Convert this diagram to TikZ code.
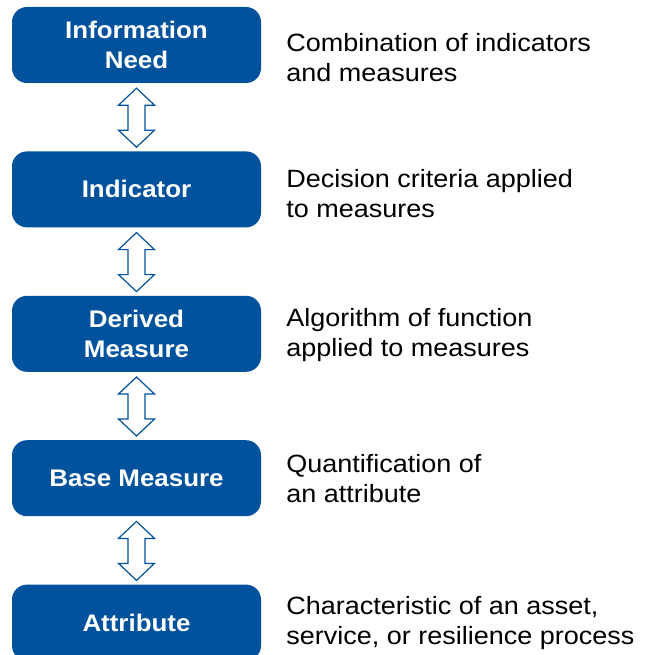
\documentclass[tikz,border=0pt]{standalone}
\usepackage{fontspec}
\usepackage{tikz}
\usetikzlibrary{positioning,calc}
\newfontfamily\diagfont{Liberation Sans}[FakeStretch=1.08]
\definecolor{levelblue}{HTML}{00529C}
% double-headed hollow arrow between two stacked boxes
\newcommand{\linkarrow}[2]{%
  \draw[linkline] ($(#1.south)+(0,-5pt)$) -- ++(18pt,-17pt) -- ++(-9.5pt,0pt)
    |- ($(#2.north)+(18pt,21pt)$) -- ($(#2.north)+(0,4pt)$)
    -- ($(#2.north)+(-18pt,21pt)$) -| ($(#1.south)+(-8.5pt,-22pt)$)
    -- ++(-9.5pt,0pt) -- cycle;}

\begin{document}
\begin{tikzpicture}[node distance=68pt,
  levelbox/.style={fill=levelblue, rounded corners=15pt, minimum width=249pt, minimum height=76pt,
    align=center, text=white, font=\diagfont\bfseries\fontsize{24}{30}\selectfont},
  desc/.style={inner sep=0pt, align=left, font=\diagfont\fontsize{25}{30}\selectfont},
  linkline/.style={draw=levelblue, fill=white, line width=1.2pt, line join=miter}]
  \useasboundingbox (0,0) rectangle (649pt,-655pt);
  \node[levelbox] (need) at (136.5pt,-45pt) {Information\\Need};
  \node[levelbox, below=of need] (indicator) {Indicator};
  \node[levelbox, below=of indicator] (derived) {Derived\\Measure};
  \node[levelbox, below=of derived] (base) {Base Measure};
  \node[levelbox, below=of base] (attribute) {Attribute};
  \node[desc, right=25pt of need, yshift=-13pt] (needtxt) {Combination of indicators\\and measures};
  \node[desc, right=25pt of indicator, yshift=-4pt] (indicatortxt) {Decision criteria applied\\to measures};
  \node[desc, right=25pt of derived, yshift=-1pt] (derivedtxt) {Algorithm of function\\applied to measures};
  \node[desc, right=25pt of base] (basetxt) {Quantification of\\an attribute};
  \node[desc, right=25pt of attribute] (attributetxt) {Characteristic of an asset,\\service, or resilience process};
  \linkarrow{need}{indicator}
  \linkarrow{indicator}{derived}
  \linkarrow{derived}{base}
  \linkarrow{base}{attribute}
\end{tikzpicture}
\end{document}
